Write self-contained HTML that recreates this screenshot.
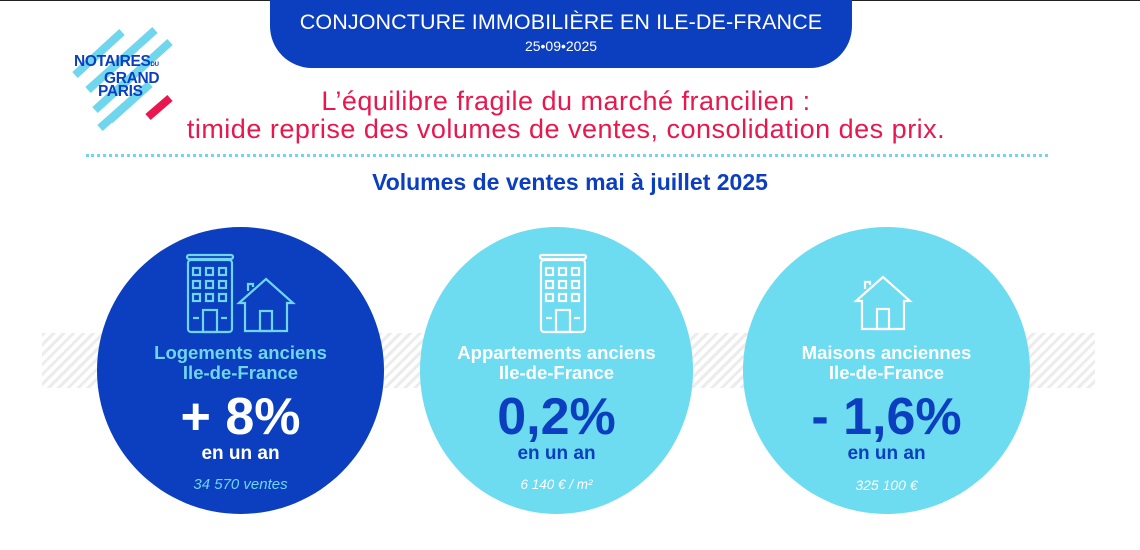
<!DOCTYPE html>
<html><head><meta charset="utf-8"><style>
*{margin:0;padding:0;box-sizing:border-box}
body{width:1140px;height:550px;background:#fff;position:relative;overflow:hidden;font-family:"Liberation Sans","DejaVu Sans",sans-serif}
.abs{position:absolute}
.banner{left:270px;top:0;width:582px;height:68px;background:#0b3fbf;border-radius:0 0 42px 42px;color:#fff;text-align:center}
.c{text-align:center;width:100%}
.circle{position:absolute;top:227px;width:287px;height:287px;border-radius:50%}
.t{position:absolute;left:-20px;width:calc(100% + 40px);text-align:center;font-weight:bold}
</style></head><body>
<div class="abs" style="left:0;top:0;width:1140px;height:1px;background:#222"></div>
<div class="abs banner">
 <div style="font-size:21.5px;margin-top:10px;letter-spacing:0.1px">CONJONCTURE IMMOBILIÈRE EN ILE-DE-FRANCE</div>
 <div style="font-size:14px;margin-top:3px">25•09•2025</div>
</div>
<svg class="abs" style="left:70px;top:20px" width="110" height="120">
 <g stroke="#6fd6ee" stroke-width="8">
  <line x1="5" y1="55" x2="52" y2="12"/><line x1="18" y1="70" x2="85" y2="10"/>
  <line x1="25" y1="90" x2="100" y2="22"/><line x1="40" y1="100" x2="80" y2="64"/>
  <line x1="30" y1="108" x2="75" y2="68"/>
 </g>
 <line x1="78" y1="97" x2="100" y2="78" stroke="#e8174e" stroke-width="8"/>
</svg>
<div class="abs" style="left:74px;top:55px;color:#0b3fbf;font-weight:bold;font-size:15.5px;line-height:13px;letter-spacing:-0.3px">NOTAIRES<span style="font-size:6px">DU</span><br><span style="padding-left:30px">GRAND</span><br><span style="padding-left:24px">PARIS</span></div>
<div class="abs c" style="top:87px;left:-4px;color:#e8174e;font-size:27px;line-height:28px;letter-spacing:0.5px">L’équilibre fragile du marché francilien :<br>timide reprise des volumes de ventes, consolidation des prix.</div>
<div class="abs" style="left:86px;top:154px;width:962px;border-top:3px dotted #6fd6ee"></div>
<div class="abs c" style="top:169px;color:#0b3fbf;font-size:23px;font-weight:bold">Volumes de ventes mai à juillet 2025</div>
<div class="abs" style="left:42px;top:333px;width:1053px;height:55px;background:repeating-linear-gradient(135deg,#ececec 0 3px,#fff 3px 7px)"></div>

<div class="circle" style="left:97px;background:#0b3fbf">
 <svg class="abs" style="left:86px;top:24px" width="115" height="84" fill="none" stroke="#6fd6ee" stroke-width="2.2">
  <rect x="4" y="4" width="46" height="4" rx="2"/><rect x="5" y="9" width="44" height="72" rx="3"/>
  <g><rect x="10" y="17" width="7" height="7"/><rect x="23" y="17" width="7" height="7"/><rect x="36" y="17" width="7" height="7"/>
  <rect x="10" y="30" width="7" height="7"/><rect x="23" y="30" width="7" height="7"/><rect x="36" y="30" width="7" height="7"/>
  <rect x="10" y="43" width="7" height="7"/><rect x="23" y="43" width="7" height="7"/><rect x="36" y="43" width="7" height="7"/></g>
  <rect x="20" y="59" width="14" height="22"/><line x1="10" y1="67" x2="16" y2="67"/><line x1="38" y1="67" x2="44" y2="67"/>
  <path d="M56 52 L83 28 L110 52 L104 52 L104 80 L62 80 L62 52 Z M65 40 L65 33 L70 33 L70 36"/>
  <rect x="77" y="60" width="12" height="20"/>
 </svg>
 <div class="t" style="top:116px;color:#6fd6ee;font-size:18.5px;line-height:20px">Logements anciens<br>Ile-de-France</div>
 <div class="t" style="top:163px;color:#fff;font-size:52px;line-height:54px">+ 8%</div>
 <div class="t" style="top:216px;color:#fff;font-size:19px">en un an</div>
 <div class="t" style="top:249px;color:#6fd6ee;font-size:15px;font-weight:normal;font-style:italic">34 570 ventes</div>
</div>

<div class="circle" style="left:420px;width:273px;height:287px;background:#6ddbf0">
 <svg class="abs" style="left:116px;top:24px" width="56" height="84" fill="none" stroke="#fff" stroke-width="2.2">
  <rect x="4" y="4" width="46" height="4" rx="2"/><rect x="5" y="9" width="44" height="72" rx="3"/>
  <rect x="10" y="17" width="7" height="7"/><rect x="23" y="17" width="7" height="7"/><rect x="36" y="17" width="7" height="7"/>
  <rect x="10" y="30" width="7" height="7"/><rect x="23" y="30" width="7" height="7"/><rect x="36" y="30" width="7" height="7"/>
  <rect x="10" y="43" width="7" height="7"/><rect x="23" y="43" width="7" height="7"/><rect x="36" y="43" width="7" height="7"/>
  <rect x="20" y="59" width="14" height="22"/><line x1="10" y1="67" x2="16" y2="67"/><line x1="38" y1="67" x2="44" y2="67"/>
 </svg>
 <div class="t" style="top:116px;color:#fff;font-size:18.5px;line-height:20px">Appartements anciens<br>Ile-de-France</div>
 <div class="t" style="top:163px;color:#0b3fbf;font-size:52px;line-height:54px">0,2%</div>
 <div class="t" style="top:216px;color:#0b3fbf;font-size:19px">en un an</div>
 <div class="t" style="top:250px;color:#fff;font-size:13.5px;font-weight:normal;font-style:italic">6 140 € / m²</div>
</div>

<div class="circle" style="left:743px;background:#6ddbf0">
 <svg class="abs" style="left:110px;top:46px" width="62" height="60" fill="none" stroke="#fff" stroke-width="2.2">
  <path d="M3 28 L30 4 L57 28 L51 28 L51 56 L9 56 L9 28 Z M12 16 L12 9 L17 9 L17 12"/>
  <rect x="24" y="36" width="12" height="20"/>
 </svg>
 <div class="t" style="top:116px;color:#fff;font-size:18.5px;line-height:20px">Maisons anciennes<br>Ile-de-France</div>
 <div class="t" style="top:163px;color:#0b3fbf;font-size:52px;line-height:54px">- 1,6%</div>
 <div class="t" style="top:216px;color:#0b3fbf;font-size:19px">en un an</div>
 <div class="t" style="top:250px;color:#fff;font-size:14px;font-weight:normal;font-style:italic">325 100 €</div>
</div>
</body></html>
